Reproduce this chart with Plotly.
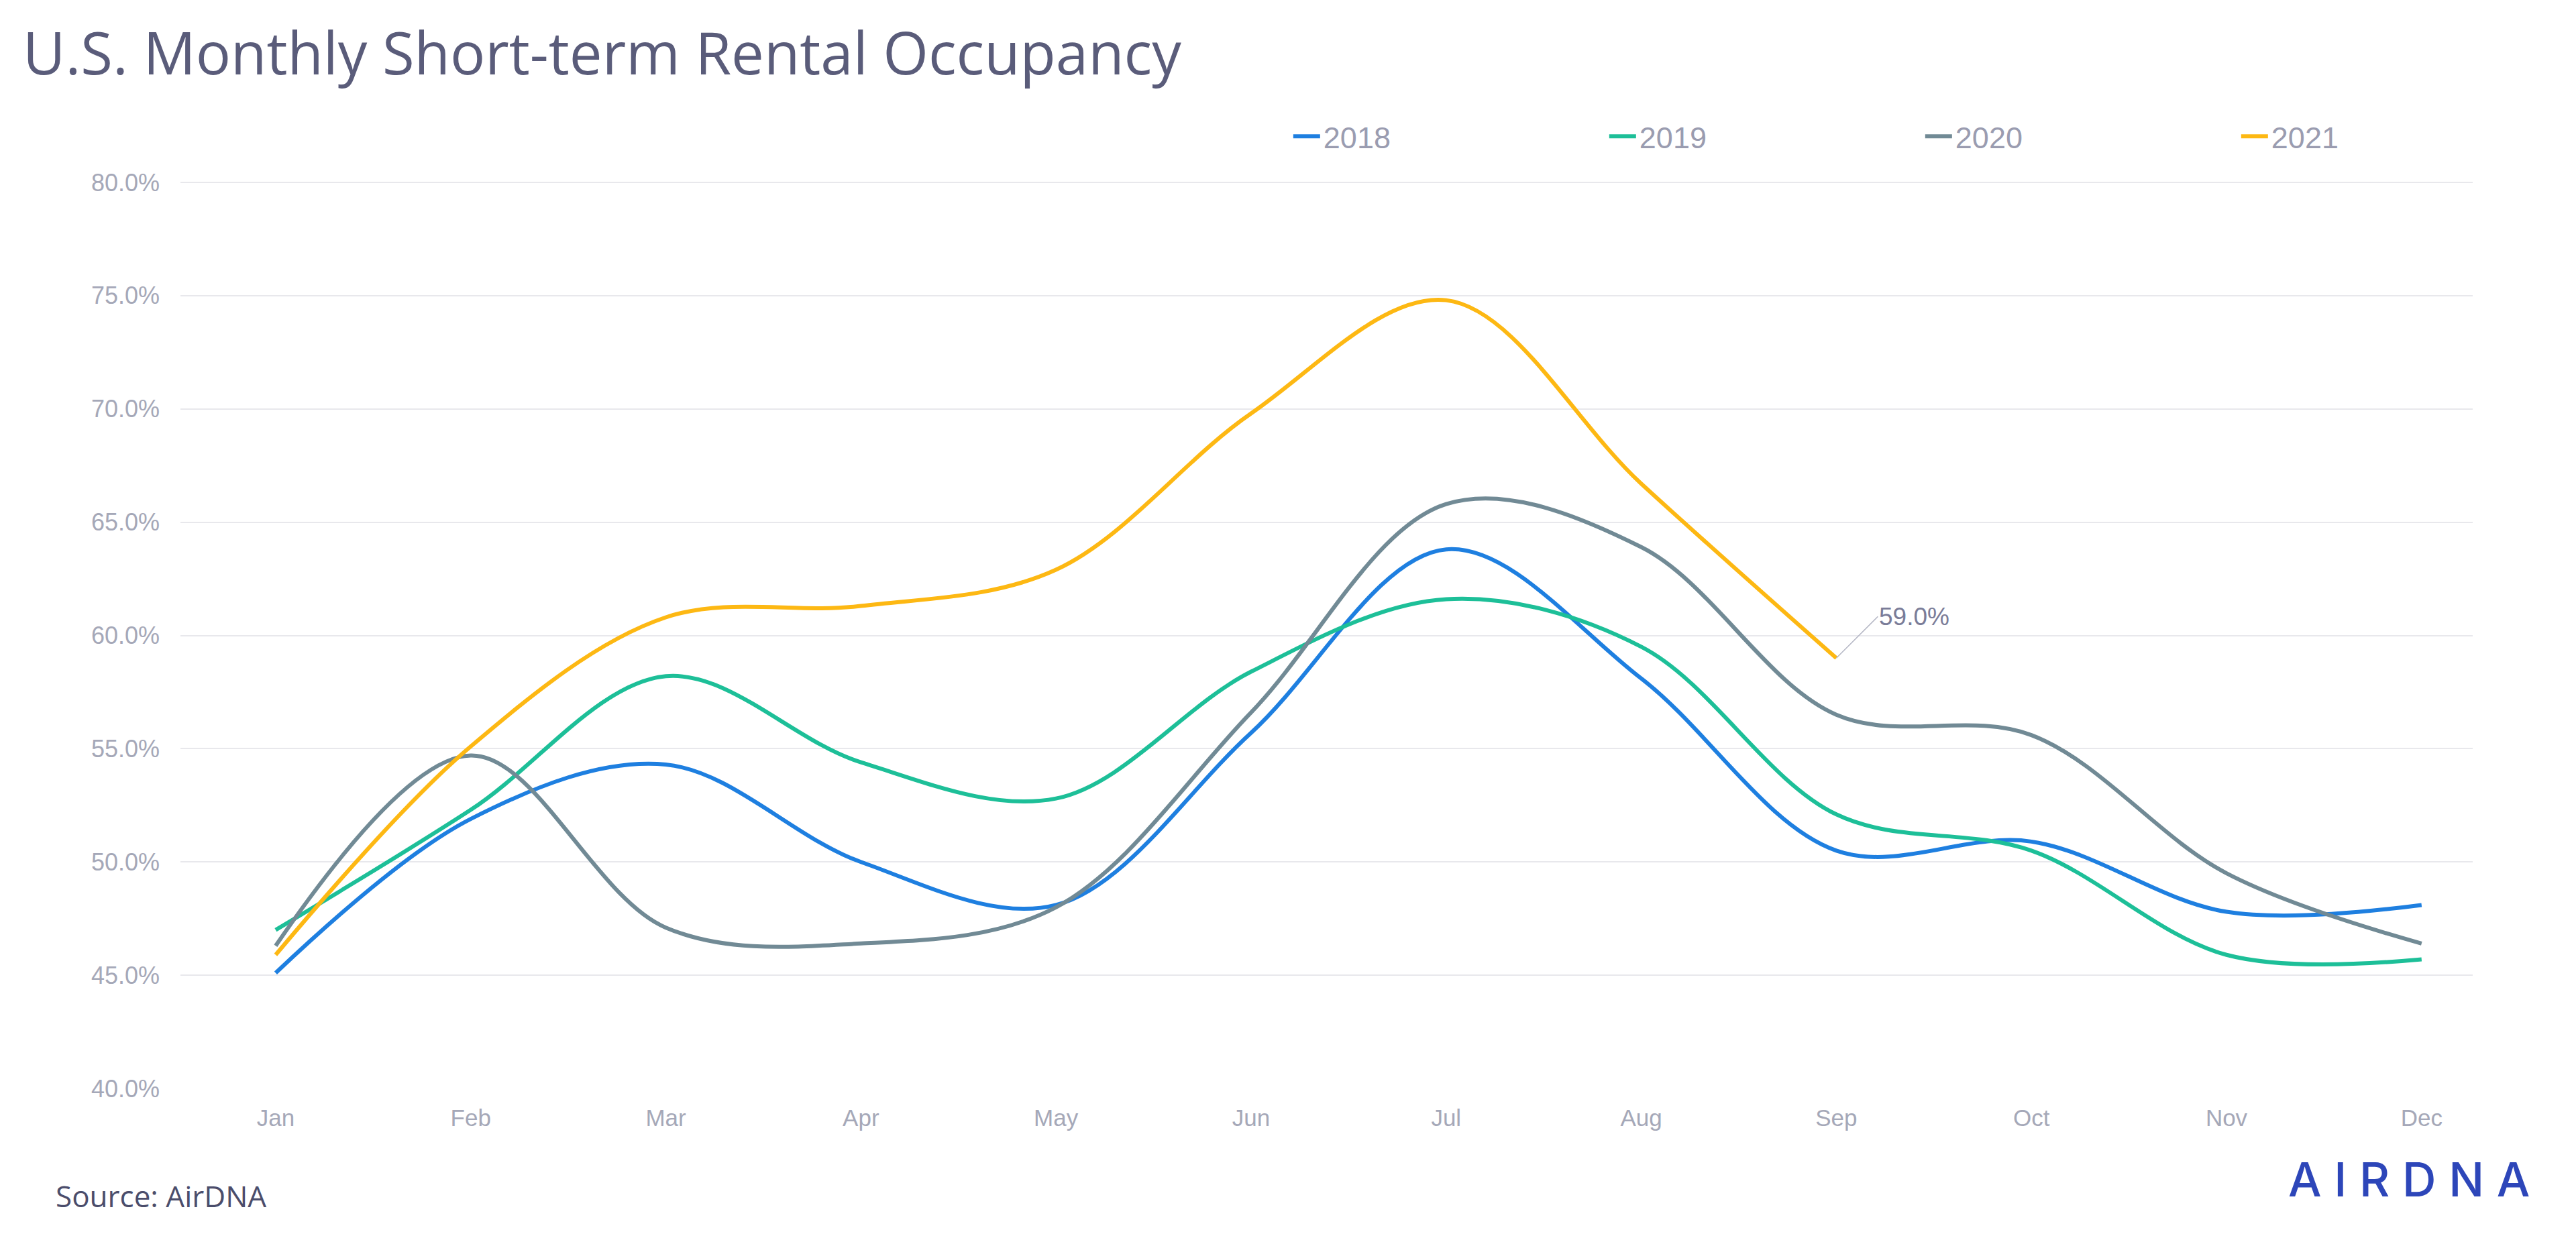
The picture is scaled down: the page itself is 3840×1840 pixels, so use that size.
import plotly.graph_objects as go

months = ["Jan", "Feb", "Mar", "Apr", "May", "Jun", "Jul", "Aug", "Sep", "Oct", "Nov", "Dec"]
y_ticks = [40, 45, 50, 55, 60, 65, 70, 75, 80]

occ_2018 = [45.1, 51.9, 54.3, 50.0, 48.1, 55.7, 63.8, 58.1, 50.5, 50.9, 47.8, 48.1]
occ_2019 = [47.0, 52.3, 58.2, 54.4, 52.8, 58.4, 61.6, 59.5, 52.1, 50.5, 45.9, 45.7]
occ_2020 = [46.3, 54.7, 47.1, 46.4, 48.0, 56.6, 65.8, 63.9, 56.5, 55.6, 49.5, 46.4]
occ_2021 = [45.9, 55.1, 60.8, 61.3, 62.9, 69.8, 74.8, 66.7, 59.0]

series = [
    ("2018", occ_2018, "#1E7FE0"),
    ("2019", occ_2019, "#1DBF98"),
    ("2020", occ_2020, "#718A95"),
    ("2021", occ_2021, "#FDB813"),
]

fig = go.Figure()
for name, vals, color in series:
    fig.add_trace(go.Scatter(
        x=months[:len(vals)], y=vals, name=name, mode="lines",
        line=dict(color=color, width=6, shape="spline", smoothing=1.0),
    ))

# label on the last 2021 point
fig.add_annotation(
    x=months[len(occ_2021) - 1], y=occ_2021[-1], text=f"{occ_2021[-1]:.1f}%",
    showarrow=True, arrowhead=0, arrowwidth=1.5, arrowcolor="#b4b6c4",
    ax=62, ay=-62, xanchor="left", yanchor="middle",
    font=dict(family="Liberation Sans, Arial, sans-serif", size=37, color="#7a7c98"),
)

fig.add_annotation(
    text="Source: AirDNA", xref="paper", yref="paper", x=-0.055, y=-0.118,
    xanchor="left", yanchor="middle", showarrow=False,
    font=dict(family="Open Sans, Noto Sans, sans-serif", size=44, color="#4b4d6b"),
)
fig.add_annotation(
    text="A I R D N A", xref="paper", yref="paper", x=1.0255, y=-0.1,
    xanchor="right", yanchor="middle", showarrow=False,
    font=dict(family="Inter, Roboto, sans-serif", size=70, color="#2d46b9", weight=500),
)

fig.update_layout(
    width=3840, height=1840,
    paper_bgcolor="white", plot_bgcolor="white",
    margin=dict(l=269, r=154, t=271, b=217, autoexpand=False),
    title=dict(
        text="U.S. Monthly Short-term Rental Occupancy",
        x=34 / 3840, xref="container", xanchor="left",
        y=1 - 81 / 1840, yref="container", yanchor="middle",
        font=dict(family="Open Sans, Noto Sans, sans-serif", size=87, color="#5a5c7a"),
    ),
    legend=dict(
        orientation="h", x=0.484, xanchor="left", y=1.05, yanchor="middle",
        entrywidth=416, entrywidthmode="pixels",
        font=dict(family="Liberation Sans, Arial, sans-serif", size=45, color="#9a9cb0"),
        itemwidth=40,
    ),
    xaxis=dict(
        type="category", categoryorder="array", categoryarray=months,
        range=[-0.488, 11.262], showgrid=False, zeroline=False, showline=False,
        ticks="", ticklabelstandoff=20,
        tickfont=dict(family="Liberation Sans, Arial, sans-serif", size=35, color="#a5a8b8"),
    ),
    yaxis=dict(
        range=[40, 80.03], tickmode="array", tickvals=y_ticks,
        ticktext=[f"{v:.1f}%" for v in y_ticks],
        showgrid=True, gridcolor="#e8e8ec", gridwidth=2, zeroline=False, showline=False,
        ticks="", ticklabelstandoff=30,
        tickfont=dict(family="Liberation Sans, Arial, sans-serif", size=36, color="#a5a8b8"),
    ),
    showlegend=True,
)

fig.write_html("out.html")
